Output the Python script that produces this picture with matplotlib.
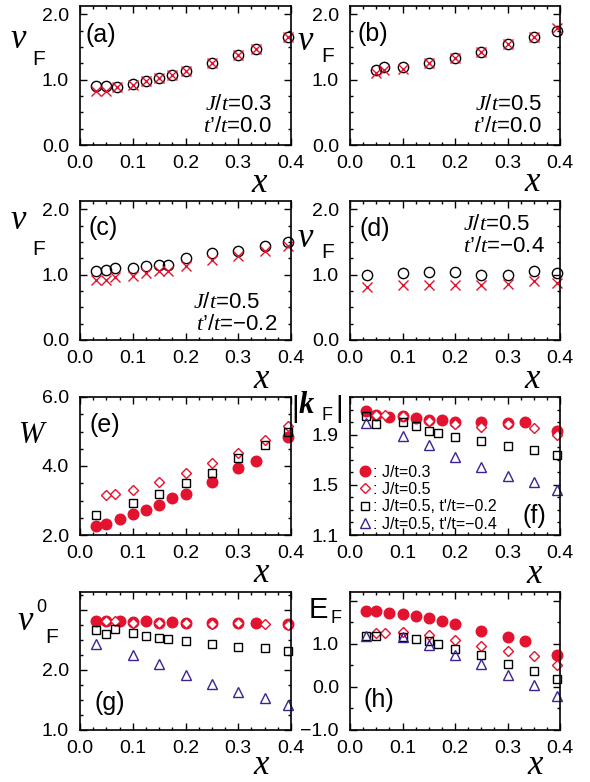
import matplotlib
matplotlib.use('Agg')
import matplotlib.pyplot as plt
from matplotlib.ticker import MultipleLocator, FixedLocator
from matplotlib.lines import Line2D

plt.rcParams.update({
    'font.family': ['Liberation Sans', 'DejaVu Sans'],
    'mathtext.fontset': 'custom',
    'mathtext.it': 'Liberation Serif:italic',
    'mathtext.rm': 'Liberation Sans',
    'mathtext.sf': 'Liberation Sans',
    'axes.unicode_minus': True,
})

RED = '#e3122e'
PURPLE = '#3e2290'

# ---------------- data ----------------
# (a) J/t=0.3, t'/t=0.0
x_a = [0.031, 0.05, 0.07, 0.1, 0.125, 0.15, 0.175, 0.2, 0.25, 0.3, 0.333, 0.395]
a_circ = [0.90, 0.90, 0.89, 0.94, 0.98, 1.02, 1.07, 1.14, 1.25, 1.38, 1.47, 1.66]
a_cross = [0.82, 0.82, 0.89, 0.92, 0.98, 1.02, 1.07, 1.14, 1.25, 1.38, 1.47, 1.66]
# (b) J/t=0.5, t'/t=0.0
x_b = [0.05, 0.065, 0.1, 0.15, 0.2, 0.25, 0.3, 0.35, 0.395]
b_circ = [1.15, 1.20, 1.19, 1.26, 1.33, 1.43, 1.55, 1.66, 1.75]
b_cross = [1.11, 1.15, 1.16, 1.26, 1.33, 1.43, 1.55, 1.66, 1.79]
# (c) J/t=0.5, t'/t=-0.2
x_c = [0.031, 0.05, 0.067, 0.1, 0.125, 0.15, 0.167, 0.2, 0.25, 0.3, 0.35, 0.395]
c_circ = [1.05, 1.08, 1.10, 1.11, 1.14, 1.15, 1.15, 1.26, 1.33, 1.37, 1.44, 1.50]
c_cross = [0.92, 0.92, 0.97, 0.98, 1.03, 1.05, 1.06, 1.13, 1.22, 1.28, 1.36, 1.44]
# (d) J/t=0.5, t'/t=-0.4
x_d = [0.033, 0.1, 0.15, 0.2, 0.25, 0.3, 0.35, 0.395]
d_circ = [1.00, 1.02, 1.04, 1.04, 1.00, 1.00, 1.06, 1.02]
d_cross = [0.81, 0.84, 0.85, 0.85, 0.84, 0.86, 0.91, 0.87]

# series x values for (e)-(h)
x_j3 = [0.031, 0.05, 0.075, 0.1, 0.125, 0.15, 0.175, 0.2, 0.25, 0.3, 0.333, 0.395]
x_j5 = [0.05, 0.067, 0.1, 0.15, 0.2, 0.25, 0.3, 0.35, 0.395]
x_t4 = [0.031, 0.1, 0.15, 0.2, 0.25, 0.3, 0.35, 0.395]

# (e) W
e_j3 = [2.27, 2.32, 2.46, 2.60, 2.73, 2.87, 3.07, 3.19, 3.55, 3.94, 4.15, 4.84]
e_j5 = [3.15, 3.18, 3.31, 3.53, 3.79, 4.08, 4.39, 4.74, 5.17]
x_e_sq = [0.031, 0.1, 0.15, 0.2, 0.25, 0.3, 0.35, 0.395]
e_sq = [2.58, 2.94, 3.19, 3.52, 3.81, 4.23, 4.62, 4.98]

# (f) |k_F|
f_j3 = [2.087, 2.06, 2.04, 2.047, 2.033, 2.015, 2.015, 2.0, 2.0, 1.99, 2.0, 1.927]
f_j5 = [2.06, 2.055, 2.047, 2.007, 1.985, 1.96, 1.985, 1.953, 1.90]
x_f_sq = [0.031, 0.05, 0.1, 0.125, 0.15, 0.167, 0.2, 0.25, 0.3, 0.35, 0.395]
f_sq = [2.05, 1.988, 2.0, 1.967, 1.932, 1.913, 1.879, 1.852, 1.807, 1.78, 1.735]
f_t4 = [1.993, 1.892, 1.82, 1.719, 1.641, 1.572, 1.519, 1.455]

# (g) v0_F
g_j3 = [2.81, 2.81, 2.81, 2.80, 2.81, 2.79, 2.80, 2.79, 2.78, 2.78, 2.79, 2.76]
g_j5 = [2.81, 2.81, 2.79, 2.79, 2.79, 2.77, 2.78, 2.77, 2.75]
x_g_sq = [0.031, 0.05, 0.067, 0.1, 0.125, 0.15, 0.167, 0.2, 0.25, 0.3, 0.35, 0.395]
g_sq = [2.67, 2.60, 2.69, 2.61, 2.57, 2.54, 2.52, 2.48, 2.44, 2.39, 2.36, 2.31]
g_t4 = [2.43, 2.25, 2.10, 1.92, 1.77, 1.64, 1.54, 1.42]

# (h) E_F
h_j3 = [1.77, 1.77, 1.72, 1.69, 1.65, 1.59, 1.52, 1.45, 1.30, 1.16, 1.06, 0.74]
h_j5 = [1.24, 1.25, 1.27, 1.20, 1.08, 0.95, 0.83, 0.71, 0.50]
x_h_sq = [0.031, 0.05, 0.1, 0.125, 0.15, 0.167, 0.2, 0.25, 0.3, 0.35, 0.395]
h_sq = [1.18, 1.18, 1.16, 1.12, 1.06, 1.00, 0.88, 0.73, 0.53, 0.36, 0.18]
h_t4 = [1.18, 1.16, 0.96, 0.73, 0.53, 0.28, 0.04, -0.22]

legend_labels = [': J/t=0.3', ': J/t=0.5', ": J/t=0.5, t'/t=\u22120.2", ": J/t=0.5, t'/t=\u22120.4"]

# ---------------- figure ----------------
W, H = 590, 782
fig = plt.figure(figsize=(W / 100, H / 100), dpi=100)

def add_ax(l, t, r, b):
    return fig.add_axes([l / W, 1 - b / H, (r - l) / W, (b - t) / H])

def ftext(x, y, s, **kw):
    fig.text(x / W, 1 - y / H, s, **kw)

cols = [(80, 291), (350, 560)]
rows = [(6, 145), (201, 340), (397, 535), (592, 730)]

axes = {}
names = [['a', 'b'], ['c', 'd'], ['e', 'f'], ['g', 'h']]
for ri, (t, b) in enumerate(rows):
    for ci, (l, r) in enumerate(cols):
        ax = add_ax(l, t, r, b)
        axes[names[ri][ci]] = ax
        ax.set_xlim(0, 0.4)
        ax.xaxis.set_major_locator(MultipleLocator(0.1))
        ax.xaxis.set_minor_locator(MultipleLocator(0.025))
        ax.tick_params(which='both', direction='in', top=True, right=True, width=1.0)
        ax.tick_params(which='major', length=5, labelsize=14)
        ax.tick_params(which='minor', length=2.5)
        ax.tick_params(axis='x', pad=7)
        ax.tick_params(axis='y', pad=8)
        for sp in ax.spines.values():
            sp.set_linewidth(1.2)
        ax.xaxis.set_major_formatter(plt.FuncFormatter(lambda v, p: f'{v:.1f}'))

SERIF_IT = dict(family='Liberation Serif', style='italic')

# top panels
top = [('a', x_a, a_circ, a_cross), ('b', x_b, b_circ, b_cross),
       ('c', x_c, c_circ, c_cross), ('d', x_d, d_circ, d_cross)]
for name, xs, yc, yx in top:
    ax = axes[name]
    ax.plot(xs, yc, 'o', ms=7.4, mfc='none', mec='black', mew=1.0, clip_on=False)
    ax.plot(xs, yx, 'x', ms=7.0, color=RED, mew=1.0, clip_on=False)
    ax.set_ylim(0, 2.13)
    ax.yaxis.set_major_locator(FixedLocator([0.0, 1.0, 2.0]))
    ax.yaxis.set_minor_locator(MultipleLocator(0.25))
    ax.yaxis.set_major_formatter(plt.FuncFormatter(lambda v, p: f'{v:.1f}'))

def plot_four(ax, j3x, j3, j5x, j5, sqx, sq, t4x=None, t4=None):
    ax.plot(j3x, j3, 'o', ms=7.6, color=RED, mec=RED, clip_on=False)
    ax.plot(j5x, j5, 'D', ms=5.0, mfc='white', mec=RED, mew=1.0, clip_on=False)
    ax.plot(sqx, sq, 's', ms=6.2, mfc='none', mec='black', mew=1.0, clip_on=False)
    if t4 is not None:
        ax.plot(t4x, t4, '^', ms=7.2, mfc='none', mec=PURPLE, mew=1.0, clip_on=False)

ax = axes['e']
plot_four(ax, x_j3, e_j3, x_j5, e_j5, x_e_sq, e_sq)
ax.set_ylim(2, 6)
ax.yaxis.set_major_locator(MultipleLocator(2))
ax.yaxis.set_minor_locator(MultipleLocator(0.5))
ax.yaxis.set_major_formatter(plt.FuncFormatter(lambda v, p: f'{v:.1f}'))

ax = axes['f']
plot_four(ax, x_j3, f_j3, x_j5, f_j5, x_f_sq, f_sq, x_t4, f_t4)
ax.set_ylim(1.1, 2.2)
ax.yaxis.set_major_locator(FixedLocator([1.1, 1.5, 1.9]))
ax.yaxis.set_minor_locator(MultipleLocator(0.1))
ax.yaxis.set_major_formatter(plt.FuncFormatter(lambda v, p: f'{v:.1f}'))
handles = [
    Line2D([], [], ls='none', marker='o', ms=7.6, color=RED),
    Line2D([], [], ls='none', marker='D', ms=5.0, mfc='white', mec=RED, mew=1.0),
    Line2D([], [], ls='none', marker='s', ms=6.2, mfc='none', mec='black', mew=1.0),
    Line2D([], [], ls='none', marker='^', ms=7.2, mfc='none', mec=PURPLE, mew=1.0),
]
ax.legend(handles, legend_labels, loc='lower left', bbox_to_anchor=(0.03, 0.0),
          frameon=False, fontsize=11.5, handlelength=0.7, handletextpad=0.15,
          labelspacing=0.15, borderpad=0.2, borderaxespad=0.0)

ax = axes['g']
plot_four(ax, x_j3, g_j3, x_j5, g_j5, x_g_sq, g_sq, x_t4, g_t4)
ax.set_ylim(1.0, 3.3)
ax.yaxis.set_major_locator(FixedLocator([1.0, 2.0, 3.0]))
ax.yaxis.set_minor_locator(MultipleLocator(0.25))
ax.yaxis.set_major_formatter(plt.FuncFormatter(lambda v, p: '' if v > 2.5 else f'{v:.1f}'))

ax = axes['h']
plot_four(ax, x_j3, h_j3, x_j5, h_j5, x_h_sq, h_sq, x_t4, h_t4)
ax.set_ylim(-1.0, 2.2)
ax.yaxis.set_major_locator(FixedLocator([-1.0, 0.0, 1.0, 2.0]))
ax.yaxis.set_minor_locator(MultipleLocator(0.5))
ax.yaxis.set_major_formatter(plt.FuncFormatter(
    lambda v, p: '' if v > 1.5 else ('\u22121.0' if v < -0.5 else f'{v:.1f}')))

# ---- x labels ----
for (xx, yy) in [(259, 192), (532, 191), (261, 388), (532, 388),
                 (261, 582), (534, 583), (261, 774), (535, 774)]:
    ftext(xx, yy, 'x', ha='center', va='baseline', fontsize=25, **SERIF_IT)

# ---- y labels ----
def nu_label(xn, yn, xf, yf):
    ftext(xn, yn, '\u03bd', ha='left', va='baseline', fontsize=25, **SERIF_IT)
    ftext(xf, yf, 'F', ha='left', va='baseline', fontsize=15)

nu_label(11, 48, 32, 65)
nu_label(298, 50, 321, 62)
nu_label(11, 229, 32, 255)
nu_label(298, 247, 321, 258)

ftext(19, 443, 'W', ha='left', va='baseline', fontsize=22, **SERIF_IT)

# |k_F|
ftext(291, 417, '|', ha='left', va='baseline', fontsize=21)
ftext(299, 413, 'k', ha='left', va='baseline', fontsize=22,
      family='Liberation Serif', style='italic', weight='bold')
ftext(322, 420, 'F', ha='left', va='baseline', fontsize=13)
ftext(335, 417, '|', ha='left', va='baseline', fontsize=21)

# v0_F
ftext(18, 630, '\u03bd', ha='left', va='baseline', fontsize=25, **SERIF_IT)
ftext(36, 612, '0', ha='left', va='baseline', fontsize=13)
ftext(45, 643, 'F', ha='left', va='baseline', fontsize=15)

# E_F
ftext(309, 618, 'E', ha='left', va='baseline', fontsize=21)
ftext(330, 623, 'F', ha='left', va='baseline', fontsize=13)

# ---- panel letters ----
for (xx, yy, s) in [(101, 35, '(a)'), (373, 34, '(b)'), (103, 228, '(c)'), (375, 229, '(d)'),
                    (105, 425, '(e)'), (534, 516, '(f)'), (110, 703, '(g)'), (379, 700, '(h)')]:
    ftext(xx, yy, s, ha='center', va='center', fontsize=18)

# ---- parameter annotations ----
ann = [
    (272, 110, r'$J/t$=0.3'), (272, 132, r'$t$’/$t$=0.0'),
    (542, 110, r'$J/t$=0.5'), (542, 132, r'$t$’/$t$=0.0'),
    (260, 308, r'$J/t$=0.5'), (277, 330, r'$t$’/$t$=' + '\u22120.2'),
    (530, 230, r'$J/t$=0.5'), (545, 252, r'$t$’/$t$=' + '\u22120.4'),
]
for xx, yy, s in ann:
    ftext(xx, yy, s, ha='right', va='baseline', fontsize=16)

fig.savefig('out.png', dpi=100)
